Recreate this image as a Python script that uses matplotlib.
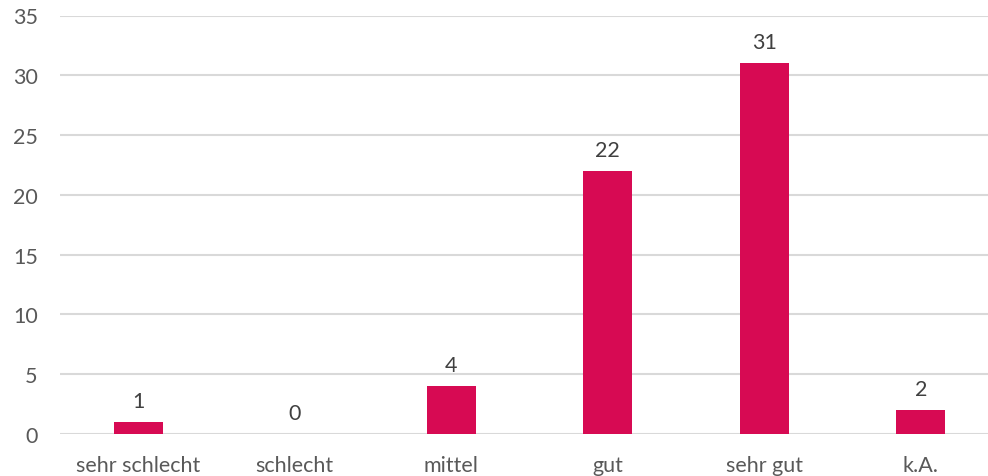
import matplotlib
matplotlib.use("Agg")
import matplotlib.pyplot as plt

categories = ["sehr schlecht", "schlecht", "mittel", "gut", "sehr gut", "k.A."]
values = [1, 0, 4, 22, 31, 2]
yticks = [0, 5, 10, 15, 20, 25, 30, 35]

plt.rcParams['font.family'] = ['Lato', 'DejaVu Sans']
text_color = "#595959"

fig = plt.figure(figsize=(9.88, 4.77), dpi=100)
ax = fig.add_axes([60/988, 1-435/477, 939/988, (435-16.5)/477])

x = list(range(len(categories)))
bars = ax.bar(x, values, width=0.31, color="#D70A53", zorder=3)
for xi, v in zip(x, values):
    ax.annotate(str(v), (xi, v), xytext=(0, 8), textcoords="offset points",
                ha="center", va="bottom", fontsize=15.5, color="#404040")

ax.set_xlim(-0.5, len(categories)-0.5)
ax.set_ylim(0, 35)
ax.set_yticks(yticks)
ax.set_xticks(x)
ax.set_xticklabels(categories)
ax.tick_params(axis='both', length=0, labelsize=15.5, colors=text_color)
ax.tick_params(axis='x', pad=15)
ax.tick_params(axis='y', pad=16)
ax.grid(axis='y', color="#D9D9D9", linewidth=1.5, zorder=0)
for s in ax.spines.values():
    s.set_visible(False)

fig.savefig("out.png", dpi=100)
